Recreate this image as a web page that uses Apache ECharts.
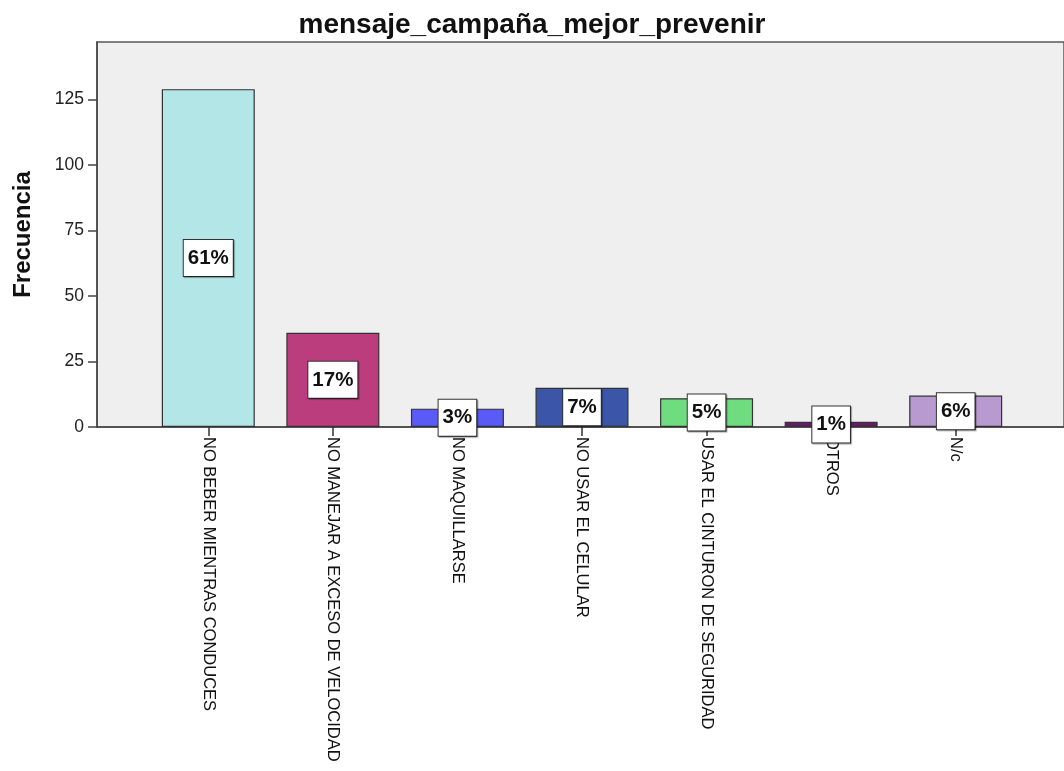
<!DOCTYPE html>
<html>
<head>
<meta charset="utf-8">
<title>mensaje_campaña_mejor_prevenir</title>
<script src="https://cdn.jsdelivr.net/npm/echarts@6/dist/echarts.min.js"></script>
<style>
  html, body { margin: 0; padding: 0; background: #ffffff; }
  #chart { width: 1064px; height: 771px; }
</style>
</head>
<body>
<div id="chart"></div>
<script>
// Responses to "mensaje_campaña_mejor_prevenir"
const categories = [
  'NO BEBER MIENTRAS CONDUCES',
  'NO MANEJAR A EXCESO DE VELOCIDAD',
  'NO MAQUILLARSE',
  'NO USAR EL CELULAR',
  'USAR EL CINTURON DE SEGURIDAD',
  'OTROS',
  'N/c'
];
const counts = [129, 36, 7, 15, 11, 2, 12];
const barColors = ['#b3e6e6', '#bc3d7d', '#5a5af6', '#3b56a8', '#70dc80', '#6b1a6b', '#b99ad0'];
const yTicks = [0, 25, 50, 75, 100, 125];
const yMax = 147;

const total = counts.reduce((a, b) => a + b, 0);
const percentLabels = counts.map(v => Math.round(v / total * 100) + '%');

const FONT = '"Liberation Sans", Arial, sans-serif';

const chart = echarts.init(document.getElementById('chart'), null, { renderer: 'canvas' });

chart.setOption({
  animation: false,
  backgroundColor: '#ffffff',
  title: {
    text: 'mensaje_campaña_mejor_prevenir',
    left: 'center',
    top: 6,
    textStyle: { fontFamily: FONT, fontSize: 28, fontWeight: 'bold', color: '#111' }
  },
  grid: [
    // frame: grey plot area, y axis and baseline
    { left: 97, width: 970, top: 42, bottom: 344, show: true,
      backgroundColor: '#efefef', borderColor: '#5a5a5a', borderWidth: 1.5 },
    // bars: category bands
    { left: 146, right: 46, top: 42, bottom: 344 }
  ],
  xAxis: [
    { gridIndex: 0, type: 'value', min: 0, max: 1,
      axisLine: { show: true, onZero: false, lineStyle: { color: '#444', width: 1.5 } },
      axisTick: { show: false }, axisLabel: { show: false }, splitLine: { show: false } },
    { gridIndex: 1, type: 'category', data: categories, boundaryGap: true,
      axisLine: { show: false },
      axisTick: { show: true, alignWithLabel: true, length: 9, lineStyle: { color: '#333', width: 1.5 } },
      axisLabel: { rotate: -90, margin: 10, interval: 0, color: '#111',
        fontFamily: FONT, fontSize: 16.5 } }
  ],
  yAxis: [
    { gridIndex: 0, type: 'value', min: 0, max: yMax,
      name: 'Frecuencia', nameLocation: 'middle', nameRotate: 90, nameGap: 62,
      nameTextStyle: { fontFamily: FONT, fontSize: 24, fontWeight: 'bold', color: '#111' },
      axisLine: { show: true, lineStyle: { color: '#444', width: 1.5 } },
      axisTick: { show: true, length: 9, customValues: yTicks, lineStyle: { color: '#444', width: 1.5 } },
      axisLabel: { customValues: yTicks, margin: 13, color: '#222', fontFamily: FONT, fontSize: 17.5 },
      splitLine: { show: false } },
    { gridIndex: 1, type: 'value', min: 0, max: yMax, show: false, splitLine: { show: false } }
  ],
  series: [{
    type: 'bar',
    xAxisIndex: 1,
    yAxisIndex: 1,
    barWidth: 93,
    data: counts.map((v, i) => ({
      value: v,
      itemStyle: { color: barColors[i] }
    })),
    itemStyle: { borderColor: '#333', borderWidth: 1.2 },
    label: {
      show: true,
      position: 'inside',
      formatter: p => percentLabels[p.dataIndex],
      fontFamily: FONT,
      fontSize: 20.5,
      fontWeight: 'bold',
      color: '#111',
      backgroundColor: '#ffffff',
      borderColor: '#333',
      borderWidth: 1,
      padding: [8, 4, 7, 4],
      shadowColor: 'rgba(0,0,0,0.35)',
      shadowOffsetX: 1,
      shadowOffsetY: 1,
      shadowBlur: 1
    }
  }]
});
</script>
</body>
</html>
